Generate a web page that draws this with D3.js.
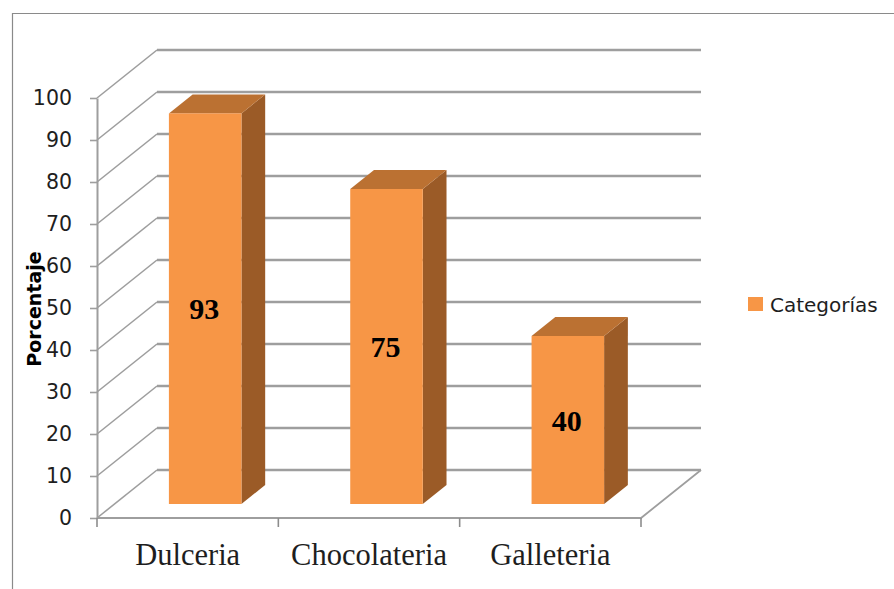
<!DOCTYPE html>
<html>
<head>
<meta charset="utf-8">
<script src="https://cdn.jsdelivr.net/npm/d3@7"></script>
<style>
  html, body { margin: 0; padding: 0; background: #fff; }
  svg { display: block; }
</style>
</head>
<body>
<svg id="chart" width="894" height="589"></svg>
<script>
const categories = ["Dulceria", "Chocolateria", "Galleteria"];
const values = [93, 75, 40];
const seriesName = "Categorías";
const yTicks = [0, 10, 20, 30, 40, 50, 60, 70, 80, 90, 100];
const yTitle = "Porcentaje";

const svg = d3.select("#chart");
const W = 894, H = 589;

// chart frame (clipped on right/bottom like the reference)
svg.append("path")
  .attr("d", `M12.5,${H} L12.5,13.5 L${W},13.5`)
  .attr("fill", "none").attr("stroke", "#8a8a8a").attr("stroke-width", 1.2);

// projection geometry
const x0 = 97, x1 = 641;
const depthX = 60, depthY = -48;
const y = d3.scaleLinear().domain([0, 100]).range([518, 98]);
const x = d3.scaleBand().domain(categories).range([x0, x1]);

const grid = "#9e9e9e";
const g = svg.append("g");

// back wall horizontal gridlines
g.selectAll("line.back").data(yTicks).join("line")
  .attr("x1", x0 + depthX).attr("x2", x1 + depthX)
  .attr("y1", d => y(d) + depthY).attr("y2", d => y(d) + depthY)
  .attr("stroke", grid).attr("stroke-width", 2.4);

// side wall diagonal gridlines
g.selectAll("line.side").data(yTicks).join("line")
  .attr("x1", x0).attr("y1", d => y(d))
  .attr("x2", x0 + depthX).attr("y2", d => y(d) + depthY)
  .attr("stroke", grid).attr("stroke-width", 1.6);

// floor front and right edges
g.append("path")
  .attr("d", `M${x0},${y(0)} L${x1},${y(0)} L${x1 + depthX},${y(0) + depthY}`)
  .attr("fill", "none").attr("stroke", grid).attr("stroke-width", 1.8);

// vertical axis (front)
const yAxis = d3.axisLeft(y).tickValues(yTicks).tickSize(7).tickPadding(18).tickSizeOuter(0);
const ya = svg.append("g").attr("transform", `translate(${x0},0)`).call(yAxis);
ya.select(".domain").attr("stroke", grid).attr("stroke-width", 2);
ya.selectAll(".tick line").attr("stroke", grid).attr("stroke-width", 1.6);
ya.selectAll(".tick text")
  .attr("font-family", "'DejaVu Sans', sans-serif").attr("font-size", 20.5)
  .attr("fill", "#1e1e1e");

// x axis ticks at band boundaries
const bounds = categories.map(c => x(c)).concat([x1]);
svg.selectAll("line.xt").data(bounds).join("line")
  .attr("x1", d => d).attr("x2", d => d)
  .attr("y1", y(0)).attr("y2", y(0) + 9)
  .attr("stroke", "#8c8c8c").attr("stroke-width", 1.6);

// x axis labels
const xAxis = d3.axisBottom(x).tickSize(0).tickPadding(0);
const xa = svg.append("g").attr("transform", `translate(0,${y(0)})`).call(xAxis);
xa.select(".domain").remove();
xa.selectAll(".tick text")
  .attr("font-family", "'Liberation Serif', 'Times New Roman', serif")
  .attr("font-size", 30.5).attr("fill", "#1e1e1e")
  .attr("dy", null).attr("y", 47);

// bars
const f0 = 14 / 48, f1 = 33 / 48;
const bw = x.bandwidth() * 0.4;
const offX0 = depthX * f0, offY0 = depthY * f0;
const dX = depthX * (f1 - f0), dY = depthY * (f1 - f0);

const bars = svg.append("g").selectAll("g").data(categories.map((c, i) => ({c, v: values[i]}))).join("g");
bars.each(function(d) {
  const gg = d3.select(this);
  const left = x(d.c) + x.bandwidth() / 2 - bw / 2 + offX0;
  const right = left + bw;
  const top = y(d.v) + offY0;
  const base = y(0) + offY0;
  // side
  gg.append("path")
    .attr("d", `M${right},${top} L${right + dX},${top + dY} L${right + dX},${base + dY} L${right},${base} Z`)
    .attr("fill", "#9b5b27");
  // top
  gg.append("path")
    .attr("d", `M${left},${top} L${left + dX},${top + dY} L${right + dX},${top + dY} L${right},${top} Z`)
    .attr("fill", "#bb7132");
  // front
  gg.append("rect")
    .attr("x", left).attr("y", top).attr("width", bw).attr("height", base - top)
    .attr("fill", "#f79646");
  gg.append("text")
    .attr("x", left + bw / 2 - 1).attr("y", (top + base) / 2)
    .attr("text-anchor", "middle").attr("dominant-baseline", "central")
    .attr("font-family", "'Liberation Serif', 'Times New Roman', serif")
    .attr("font-weight", "bold").attr("font-size", 30).attr("fill", "#000")
    .text(d.v);
});

// y title
svg.append("text")
  .attr("transform", "translate(34,309) rotate(-90)")
  .attr("text-anchor", "middle").attr("dominant-baseline", "central")
  .attr("font-family", "'DejaVu Sans', sans-serif").attr("font-weight", "bold")
  .attr("font-size", 19).attr("fill", "#000")
  .text(yTitle);

// legend
const lg = svg.append("g");
lg.append("rect").attr("x", 748).attr("y", 297).attr("width", 15).attr("height", 14).attr("fill", "#f79646");
lg.append("text").attr("x", 770).attr("y", 305)
  .attr("dominant-baseline", "central")
  .attr("font-family", "'DejaVu Sans', sans-serif").attr("font-size", 20).attr("fill", "#1e1e1e")
  .text(seriesName);
</script>
</body>
</html>
